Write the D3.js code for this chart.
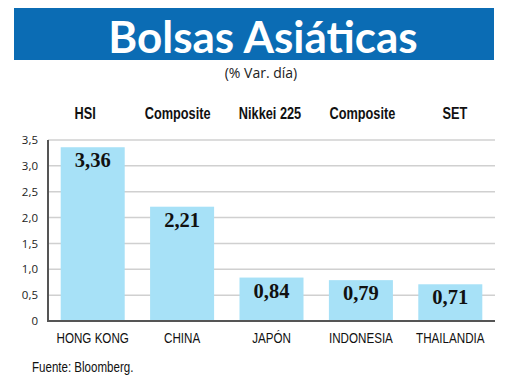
<!DOCTYPE html>
<html><head><meta charset="utf-8">
<script src="https://cdn.jsdelivr.net/npm/d3@7"></script>
<style>body{margin:0;background:#fff}svg{display:block}</style>
</head><body><svg id="c" width="520" height="389"></svg>
<script>
const countries = ["HONG KONG","CHINA","JAPÓN","INDONESIA","THAILANDIA"];
const indices = ["HSI","Composite","Nikkei 225","Composite","SET"];
const values = [3.36,2.21,0.84,0.79,0.71];
const valueLabels = ["3,36","2,21","0,84","0,79","0,71"];
const yTicks = [0,0.5,1,1.5,2,2.5,3,3.5];
const yTickLabels = ["0","0,5","1,0","1,5","2,0","2,5","3,0","3,5"];

const svg = d3.select("#c");
const sans = "'Liberation Sans', Arial, sans-serif";

svg.append("rect").attr("x",14).attr("y",8).attr("width",480).attr("height",52).attr("fill","#0b6cb4");
svg.append("text").attr("x",263).attr("y",53).attr("text-anchor","middle")
  .attr("font-family","Lato, sans-serif").attr("font-weight","bold").attr("font-size",44)
  .attr("fill","#fff").text("Bolsas Asiáticas");
svg.append("text").attr("x",261).attr("y",78).attr("text-anchor","middle")
  .attr("font-family","'Open Sans', sans-serif").attr("font-size",14).attr("fill","#222").text("(% Var. día)");

const x = d3.scaleBand().domain(d3.range(values.length)).range([48,495]).paddingInner(0.284).paddingOuter(0.142);
const xh = d3.scaleBand().domain(d3.range(indices.length)).range([39,501]);
const y = d3.scaleLinear().domain([0,3.5]).range([321,140]);

// grid
svg.append("g").selectAll("line").data(yTicks.slice(1)).join("line")
  .attr("x1",48).attr("x2",495).attr("y1",d=>y(d)).attr("y2",d=>y(d))
  .attr("stroke","#d0d0d0").attr("stroke-width",1.5);

// y axis labels
const yAxis = d3.axisLeft(y).tickValues(yTicks).tickFormat((d,i)=>yTickLabels[i]).tickSize(0).tickPadding(10);
const ga = svg.append("g").attr("transform","translate(48,0)").call(yAxis);
ga.select(".domain").remove();
ga.selectAll("text").attr("font-family","'Open Sans', sans-serif").attr("font-size",11.5).attr("fill","#222");

// bars
svg.append("g").selectAll("rect").data(values).join("rect")
  .attr("x",(d,i)=>x(i)).attr("width",x.bandwidth())
  .attr("y",d=>y(d)).attr("height",d=>y(0)-y(d)).attr("fill","#a7e1f7");

// axis lines
svg.append("line").attr("x1",48).attr("x2",48).attr("y1",140).attr("y2",322).attr("stroke","#555").attr("stroke-width",2);
svg.append("line").attr("x1",47).attr("x2",495).attr("y1",321).attr("y2",321).attr("stroke","#555").attr("stroke-width",2);

// value labels
svg.append("g").selectAll("text").data(values).join("text")
  .attr("x",(d,i)=>x(i)+x.bandwidth()/2).attr("y",d=>y(d)+20)
  .attr("text-anchor","middle").attr("font-family","'Liberation Serif', serif").attr("font-weight","bold")
  .attr("font-size",20.5).attr("fill","#111").text((d,i)=>valueLabels[i]);

// headers (condensed)
svg.append("g").selectAll("g").data(indices).join("g")
  .attr("transform",(d,i)=>`translate(${xh(i)+xh.bandwidth()/2},119) scale(0.75,1)`)
  .append("text").attr("text-anchor","middle").attr("font-family",sans).attr("font-weight","bold")
  .attr("font-size",17).attr("fill","#111").text(d=>d);

// categories (condensed)
svg.append("g").selectAll("g").data(countries).join("g")
  .attr("transform",(d,i)=>`translate(${x(i)+x.bandwidth()/2},343) scale(0.75,1)`)
  .append("text").attr("text-anchor","middle").attr("font-family",sans)
  .attr("font-size",15.5).attr("fill","#111").text(d=>d);

svg.append("g").attr("transform","translate(32,372) scale(0.77,1)")
  .append("text").attr("font-family",sans)
  .attr("font-size",15).attr("fill","#111").text("Fuente: Bloomberg.");
</script></body></html>
